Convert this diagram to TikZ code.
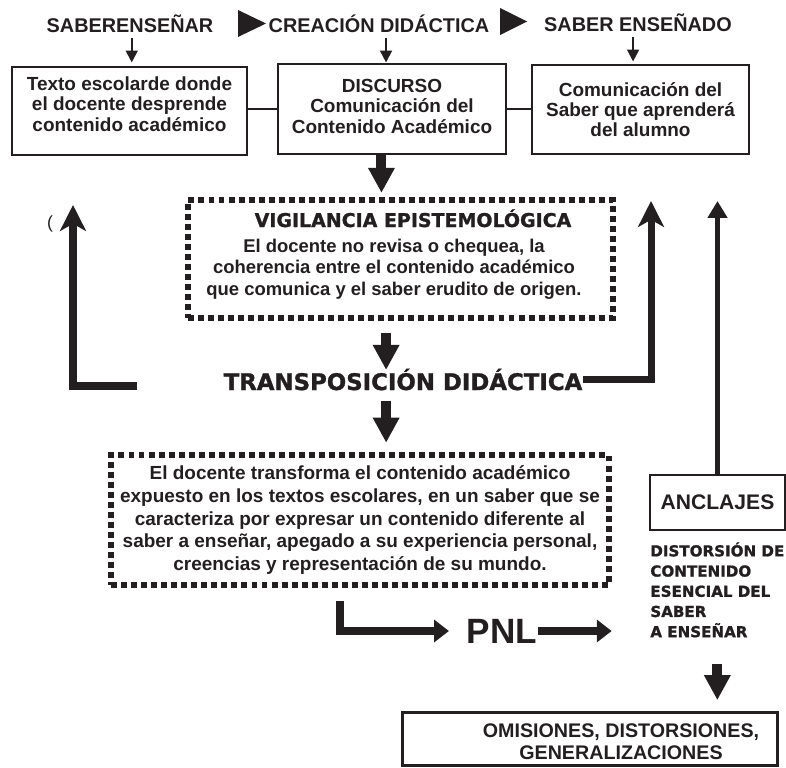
\documentclass[tikz,border=0pt]{standalone}
\usepackage{fontspec}
\setmainfont{Liberation Sans}
\newfontfamily\blackfont{DejaVu Sans}[BoldFeatures={FakeBold=1.2}]
\usetikzlibrary{arrows.meta}
\definecolor{ink}{RGB}{35,31,32}
\tikzset{
  every node/.style={text=ink},
  plainbox/.style={draw=ink, line width=1pt, rectangle, inner sep=0pt, align=center},
  dotbox/.style={draw=ink, line width=3.4pt, dash pattern=on 3.4pt off 2.3pt, rectangle, inner sep=0pt, align=center},
  thinarr/.style={draw=ink, line width=1.1pt, -{Triangle[width=6.8pt,length=6.8pt]}},
  blockarr/.style={draw=ink, line width=5.7pt, -{Triangle[width=14.2pt,length=14.2pt]}},
  bigarr/.style={draw=ink, line width=4pt, -{Stealth[width=14.7pt,length=14.7pt,inset=4pt]}},
  tallarr/.style={draw=ink, line width=2.8pt, -{Triangle[width=10.8pt,length=9.6pt]}},
  pnlarr/.style={draw=ink, line width=4pt, -{Triangle[width=12.5pt,length=8.5pt]}},
}

\begin{document}
\begin{tikzpicture}[x=0.02cm,y=-0.02cm]
  \useasboundingbox (0,0) rectangle (786,767);
  % top row
  \node[anchor=base, inner sep=0pt, font=\bfseries\fontsize{11.3}{12}\selectfont] (lblA) at (130,33) {SABERENSEÑAR};
  \node[anchor=base, inner sep=0pt, font=\bfseries\fontsize{11.3}{12}\selectfont] (lblB) at (379,33) {CREACIÓN DIDÁCTICA};
  \node[anchor=base, inner sep=0pt, font=\bfseries\fontsize{11.3}{12}\selectfont] (lblC) at (638,32) {SABER ENSEÑADO};
  \fill[ink] (238,10) -- (266,23.5) -- (238,37) -- cycle;
  \fill[ink] (500,8) -- (527,21.5) -- (500,35) -- cycle;

  \node[plainbox, minimum width=4.7cm, minimum height=1.76cm, text depth=8pt,
        font=\bfseries\fontsize{10.8}{11.5}\selectfont] (box1) at (129.5,111)
        {Texto escolarde donde\\el docente desprende\\contenido académico};
  \node[plainbox, minimum width=4.56cm, minimum height=1.8cm, text depth=3pt,
        font=\bfseries\fontsize{10.8}{11.5}\selectfont] (box2) at (392,109)
        {DISCURSO\\Comunicación del\\Contenido Académico};
  \node[plainbox, minimum width=4.34cm, minimum height=1.78cm,
        font=\bfseries\fontsize{10.8}{11.5}\selectfont] (box3) at (640.5,109.5)
        {Comunicación del\\Saber que aprenderá\\del alumno};

  \draw[thinarr] ([xshift=1pt,yshift=-2.8pt]lblA.south) -- ++(0,24);
  \draw[thinarr] ([xshift=4pt,yshift=-2.8pt]lblB.south) -- ++(0,24);
  \draw[thinarr] ([xshift=-2.8pt,yshift=-2.8pt]lblC.south) -- ++(0,24);
  \draw[ink, line width=1pt] (box1.east |- box2.west) -- (box2.west);
  \draw[ink, line width=1pt] (box2.east) -- (box3.west |- box2.east);

  % vigilancia
  \node[dotbox, minimum width=8.5cm, minimum height=2.36cm] (vigil) at (400.5,259) {};
  \node[anchor=base, inner sep=0pt, font=\blackfont\bfseries\fontsize{10.8}{12}\selectfont] (vigtitle) at (413,227)
        {VIGILANCIA EPISTEMOLÓGICA};
  \node[align=center, inner sep=0pt, font=\bfseries\fontsize{10.5}{12.2}\selectfont] (vigtext) at (394,269)
        {El docente no revisa o chequea, la\\coherencia entre el contenido académico\\que comunica y el saber erudito de origen.};
  \draw[blockarr] ([xshift=-6pt]box2.south) -- ++(0,38);
  \draw[blockarr] ([xshift=-8.2pt,yshift=-6.8pt]vigil.south) -- ++(0,37);

  \node[anchor=base, inner sep=0pt, font=\blackfont\bfseries\fontsize{13}{14}\selectfont] (transp) at (403,390)
        {TRANSPOSICIÓN DIDÁCTICA};
  \node[inner sep=0pt, font=\fontsize{10}{12}\selectfont] (paren) at (50,224) {(};
  \coordinate (lfoot) at (137,386);
  \coordinate (ltip) at (73,205);
  \coordinate (rtip) at (651,201);
  \draw[bigarr] (lfoot) -| (ltip);
  \draw[bigarr] (transp.east) -| (rtip);
  \draw[blockarr] ([xshift=-9.6pt,yshift=-5.7pt]transp.south) -- ++(0,42);

  % transformacion
  \node[dotbox, minimum width=9.95cm, minimum height=2.6cm,
        font=\bfseries\fontsize{10.8}{12.9}\selectfont] (transf) at (360,520)
        {El docente transforma el contenido académico\\expuesto en los textos escolares, en un saber que se\\caracteriza por expresar un contenido diferente al\\saber a enseñar, apegado a su experiencia personal,\\creencias y representación de su mundo.};

  \node[inner sep=0pt, font=\bfseries\fontsize{20}{22}\selectfont] (pnl) at (502,631) {PNL};
  \coordinate (pbend) at (340,631);
  \draw[pnlarr, shorten <=7.4pt, shorten >=10pt] (pbend |- transf.south) -- (pbend) -- (pnl.west);
  \draw[pnlarr] (pnl.east) -- (pnl.east -| transf.east);

  % right column
  \node[plainbox, minimum width=2.7cm, minimum height=1.1cm, font=\bfseries\fontsize{12}{14}\selectfont] (anch) at (717.5,502.5) {ANCLAJES};
  \draw[tallarr] (anch.north) -- (anch.north |- rtip);
  \node[anchor=north west, align=left, inner sep=0pt, font=\blackfont\bfseries\fontsize{8.6}{11.5}\selectfont] (dist) at (650,542)
        {DISTORSIÓN DE\\CONTENIDO\\ESENCIAL DEL\\SABER\\A ENSEÑAR};
  \draw[blockarr] ([yshift=-15pt]dist.south) -- ++(0,36);

  \node[plainbox, line width=1.7pt, minimum width=7.52cm, minimum height=1.06cm] (omis) at (590,738.5) {};
  \node[align=center, inner sep=0pt, font=\bfseries\fontsize{11.2}{12.5}\selectfont] (omistxt) at (621,742)
        {OMISIONES, DISTORSIONES,\\GENERALIZACIONES};
\end{tikzpicture}
\end{document}
